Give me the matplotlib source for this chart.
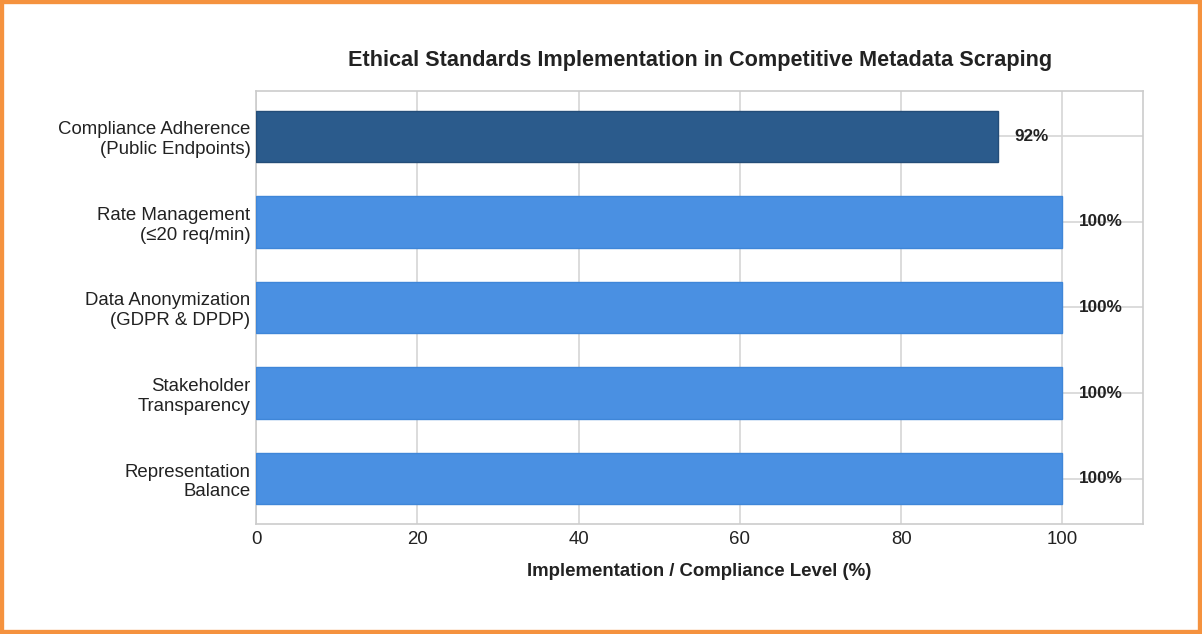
import numpy as np
import matplotlib
matplotlib.use("Agg")
import matplotlib.pyplot as plt
from matplotlib.patches import Rectangle

plt.rcParams['font.family'] = ['Liberation Sans', 'DejaVu Sans']

categories = ["Compliance Adherence\n(Public Endpoints)",
              "Rate Management\n(≤20 req/min)",
              "Data Anonymization\n(GDPR & DPDP)",
              "Stakeholder\nTransparency",
              "Representation\nBalance"]
values = [92, 100, 100, 100, 100]
colors = ["#2B5B8C", "#4A90E2", "#4A90E2", "#4A90E2", "#4A90E2"]
edges = ["#244d78", "#3f86d8", "#3f86d8", "#3f86d8", "#3f86d8"]

fig = plt.figure(figsize=(12.02, 6.34), dpi=100)
ax = fig.add_axes([0.213, 0.1735, 0.738, 0.683])

ypos = np.arange(len(categories))
ax.barh(ypos, values, height=0.6, color=colors, edgecolor=edges, linewidth=1, zorder=3)
ax.invert_yaxis()
ax.set_xlim(0, 110)
ax.set_yticks(ypos)
ax.set_yticklabels(categories, fontsize=13.4, color="#222222")
ax.set_xticks([0, 20, 40, 60, 80, 100])
ax.tick_params(axis='x', labelsize=13.4, length=0, pad=5, labelcolor="#222222")
ax.tick_params(axis='y', length=0, pad=4)
ax.grid(True, color="#d5d5d5", linewidth=1.2, zorder=0)
for s in ax.spines.values():
    s.set_color("#cccccc")
    s.set_linewidth(1.2)

for y, v in zip(ypos, values):
    ax.text(v + 2, y, f"{v}%", va='center', ha='left', fontsize=12.3,
            fontweight='bold', color="#222222", zorder=4)

ax.set_xlabel("Implementation / Compliance Level (%)", fontsize=13.4,
              fontweight='bold', labelpad=11, color="#222222")
fig.text(0.5825, 0.905, "Ethical Standards Implementation in Competitive Metadata Scraping",
         ha='center', va='center', fontsize=15.6, fontweight='bold', color="#222222")

fig.patches.append(Rectangle((0, 0), 1, 1, transform=fig.transFigure, fill=False,
                             edgecolor="#F5923E", linewidth=6, zorder=10))

fig.savefig("out.png", dpi=100)
